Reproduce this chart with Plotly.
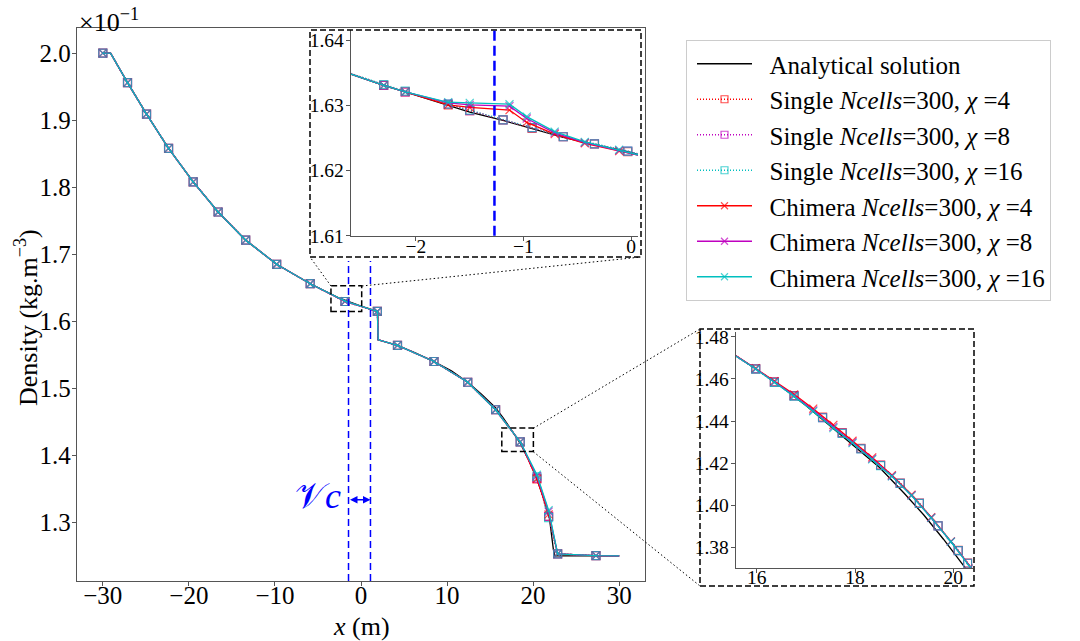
import plotly.graph_objects as go

W, H = 1080, 641
FONT = "Liberation Serif"

# ---------------- data (density in units of 1e-1 kg.m^-3) ----------------
# Analytical solution (main view)
x_ana = [-30.0, -29.1, -27.13, -24.92, -22.36, -19.5, -16.6, -13.4, -9.8, -5.9, -2.6, -1.2,
         0.0, 1.0, 1.95, 1.95, 2.3, 4.24, 6.3, 8.48, 10.5, 12.4, 14.0, 15.6, 16.5, 17.5,
         18.5, 19.4, 20.2, 21.0, 21.9, 22.36, 22.55, 30.0]
rho_ana = [2.0, 2.0, 1.956, 1.909, 1.858, 1.808, 1.763, 1.721, 1.685, 1.656, 1.6348, 1.6278,
           1.6225, 1.6184, 1.6146, 1.5724, 1.571, 1.564, 1.553, 1.540, 1.526, 1.509, 1.491,
           1.4715, 1.4563, 1.4376, 1.4180, 1.3955, 1.3722, 1.345, 1.306, 1.259, 1.25, 1.25]

# Numerical results (main view)
x_num = [-30.0, -29.1, -27.13, -24.92, -22.36, -19.5, -16.6, -13.4, -9.8, -5.9, -1.86, 1.9,
         2.0, 4.24, 8.48, 12.4, 15.64, 18.5, 20.44, 21.8, 22.85, 27.3, 30.0]
num_unmarked = [1, 12, 22]
rho_single4 = [2.0, 2.0, 1.956, 1.909, 1.858, 1.808, 1.763, 1.721, 1.685, 1.656, 1.6295, 1.6146,
               1.5724, 1.564, 1.540, 1.509, 1.468, 1.420, 1.365, 1.309, 1.253, 1.2503, 1.25]
rho_single8 = [2.0, 2.0, 1.956, 1.909, 1.858, 1.808, 1.763, 1.721, 1.685, 1.656, 1.6295, 1.6146,
               1.5724, 1.564, 1.540, 1.509, 1.468, 1.420, 1.366, 1.309, 1.253, 1.2503, 1.25]
rho_single16 = [2.0, 2.0, 1.956, 1.909, 1.858, 1.808, 1.763, 1.721, 1.685, 1.656, 1.6295, 1.6146,
                1.5724, 1.564, 1.540, 1.509, 1.468, 1.420, 1.368, 1.307, 1.253, 1.2503, 1.25]
rho_chim4 = [2.0, 2.0, 1.956, 1.909, 1.858, 1.808, 1.763, 1.721, 1.685, 1.656, 1.6296, 1.6146,
             1.5724, 1.564, 1.540, 1.509, 1.468, 1.420, 1.365, 1.312, 1.253, 1.2503, 1.25]
rho_chim8 = [2.0, 2.0, 1.956, 1.909, 1.858, 1.808, 1.763, 1.721, 1.685, 1.656, 1.6298, 1.6146,
             1.5724, 1.564, 1.540, 1.509, 1.468, 1.420, 1.369, 1.316, 1.253, 1.2503, 1.25]
rho_chim16 = [2.0, 2.0, 1.956, 1.909, 1.858, 1.808, 1.763, 1.721, 1.685, 1.656, 1.6300, 1.6146,
              1.5724, 1.564, 1.540, 1.509, 1.468, 1.420, 1.371, 1.318, 1.253, 1.2503, 1.25]

# Inset 1 (around the left boundary of the coupling zone)
x_in1_ana = [-2.9, -2.607, -2.3, -2.1, -1.7, -1.5, -1.19, -0.92, -0.63, -0.34, -0.03, 0.3]
rho_in1_ana = [1.6365, 1.6348, 1.6331, 1.6321, 1.6301, 1.6290, 1.6277, 1.6265, 1.6251, 1.6240,
               1.6229, 1.6215]
x_in1_single = [-2.9, -2.3, -2.1, -1.7, -1.5, -1.19, -0.92, -0.63, -0.34, -0.03, 0.3]
rho_in1_single4 = [1.6365, 1.6331, 1.6321, 1.6301, 1.6292, 1.6278, 1.6265, 1.6252, 1.6241, 1.6229, 1.6215]
rho_in1_single8 = [1.6365, 1.6331, 1.6321, 1.6302, 1.6292, 1.6278, 1.6266, 1.6252, 1.6241, 1.6230, 1.6215]
rho_in1_single16 = [1.6365, 1.6332, 1.6322, 1.6302, 1.6293, 1.6278, 1.6266, 1.6252, 1.6241, 1.6230, 1.6215]
x_in1_chim = [-2.9, -2.3, -2.1, -1.7, -1.5, -1.13, -0.97, -0.71, -0.43, -0.11, 0.3]
rho_in1_chim4 = [1.6365, 1.6331, 1.6321, 1.6301, 1.6297, 1.6293, 1.6274, 1.6256, 1.6242, 1.6230, 1.6215]
rho_in1_chim8 = [1.6365, 1.6331, 1.6321, 1.6304, 1.6301, 1.6299, 1.6280, 1.6258, 1.6243, 1.6231, 1.6215]
rho_in1_chim16 = [1.6365, 1.6331, 1.6321, 1.6305, 1.6304, 1.6302, 1.6283, 1.6260, 1.6244, 1.6232, 1.6215]
in_unmarked = [0, 10]

# Inset 2 (rarefaction tail)
x_in2_ana = [15.3, 15.573, 16.0, 16.5, 17.0, 17.5, 18.0, 18.5, 19.0, 19.4, 19.8, 20.2, 20.5]
rho_in2_ana = [1.4748, 1.471, 1.4646, 1.4563, 1.4474, 1.4376, 1.4278, 1.4180, 1.4058, 1.3955,
               1.3840, 1.3722, 1.3625]
x_in2_single = [15.2, 15.98, 16.36, 16.76, 17.34, 17.74, 18.12, 18.52, 18.92, 19.31, 19.69, 20.10, 20.29, 20.6]
rho_in2_single4 = [1.4766, 1.4648, 1.4586, 1.4521, 1.4419, 1.4345, 1.4271, 1.4191, 1.4106, 1.4011,
                   1.3904, 1.3787, 1.3727, 1.3629]
rho_in2_single8 = [1.4766, 1.4648, 1.4585, 1.4520, 1.4417, 1.4343, 1.4269, 1.4190, 1.4105, 1.4010,
                   1.3903, 1.3786, 1.3726, 1.3628]
rho_in2_single16 = [1.4765, 1.4647, 1.4584, 1.4519, 1.4416, 1.4342, 1.4268, 1.4189, 1.4105, 1.4010,
                    1.3903, 1.3786, 1.3726, 1.3628]
x_in2_chim = [15.2, 15.98, 16.36, 16.76, 17.15, 17.56, 17.95, 18.35, 18.75, 19.15, 19.55, 19.95, 20.35, 20.6]
rho_in2_chim4 = [1.4768, 1.4651, 1.4590, 1.4527, 1.4459, 1.4382, 1.4307, 1.4228, 1.4144, 1.4051,
                 1.3944, 1.3830, 1.3709, 1.3629]
rho_in2_chim8 = [1.4766, 1.4648, 1.4586, 1.4521, 1.4451, 1.4373, 1.4300, 1.4222, 1.4140, 1.4048,
                 1.3942, 1.3829, 1.3708, 1.3628]
rho_in2_chim16 = [1.4765, 1.4647, 1.4584, 1.4518, 1.4447, 1.4367, 1.4296, 1.4219, 1.4138, 1.4047,
                  1.3941, 1.3828, 1.3707, 1.3628]
in2_unmarked = [0, 13]

# coupling zone V_c bounds (main view) and its left bound seen in inset 1
vc_bounds = [-1.45, 1.10]
vc_left_inset = [-1.27]
vc_arrow_rho = 1.3338
# zoom rectangles drawn on the main view
zoom1_rect = [-3.49, 0.08, 1.6146, 1.653]
zoom2_rect = [16.36, 20.03, 1.4058, 1.4407]

x_ticks_main = [-30, -20, -10, 0, 10, 20, 30]
y_ticks_main = [1.3, 1.4, 1.5, 1.6, 1.7, 1.8, 1.9, 2.0]
x_ticks_in1 = [-2, -1, 0]
y_ticks_in1 = [1.61, 1.62, 1.63, 1.64]
x_ticks_in2 = [16, 18, 20]
y_ticks_in2 = [1.38, 1.40, 1.42, 1.44, 1.46, 1.48]

PAD = "\u00a0\u00a0"
series_names = [
    "Single <i>Ncells</i>=300, <i>χ</i> =4",
    "Single <i>Ncells</i>=300, <i>χ</i> =8",
    "Single <i>Ncells</i>=300, <i>χ</i> =16",
    "Chimera <i>Ncells</i>=300, <i>χ</i> =4",
    "Chimera <i>Ncells</i>=300, <i>χ</i> =8",
    "Chimera <i>Ncells</i>=300, <i>χ</i> =16",
]
ana_name = "Analytical solution"

# ---------------- styles ----------------
RED, MAG, CYA = "#ff0000", "#bf00bf", "#00bfbf"
colors = [RED, MAG, CYA, RED, MAG, CYA]
dashes = ["1px,2px"] * 3 + ["solid"] * 3
symbols = ["square-open"] * 3 + ["x-thin"] * 3
LW = 1.3


def px_x(p):
    return p / W


def px_y(p):
    return 1 - p / H


def sizes(n, unmarked, s):
    return [0 if i in unmarked else s for i in range(n)]


fig = go.Figure()

# main view
fig.add_trace(go.Scatter(x=x_ana, y=rho_ana, mode="lines", name=PAD + ana_name,
                         line=dict(color="black", width=LW), xaxis="x", yaxis="y"))
main_rhos = [rho_single4, rho_single8, rho_single16, rho_chim4, rho_chim8, rho_chim16]
for i in range(6):
    fig.add_trace(go.Scatter(
        x=x_num, y=main_rhos[i], mode="lines+markers", name=PAD + series_names[i],
        line=dict(color=colors[i], width=LW, dash=dashes[i]),
        marker=dict(symbol=symbols[i], size=sizes(len(x_num), num_unmarked, 8),
                    color=colors[i], line=dict(color=colors[i], width=1.2)),
        xaxis="x", yaxis="y"))

# inset 1
fig.add_trace(go.Scatter(x=x_in1_ana, y=rho_in1_ana, mode="lines", showlegend=False,
                         line=dict(color="black", width=LW), xaxis="x2", yaxis="y2"))
in1 = [(x_in1_single, rho_in1_single4), (x_in1_single, rho_in1_single8), (x_in1_single, rho_in1_single16),
       (x_in1_chim, rho_in1_chim4), (x_in1_chim, rho_in1_chim8), (x_in1_chim, rho_in1_chim16)]
for i, (xx, yy) in enumerate(in1):
    fig.add_trace(go.Scatter(
        x=xx, y=yy, mode="lines+markers", showlegend=False,
        line=dict(color=colors[i], width=LW, dash=dashes[i]),
        marker=dict(symbol=symbols[i], size=sizes(len(xx), in_unmarked, 8),
                    color=colors[i], line=dict(color=colors[i], width=1.2)),
        xaxis="x2", yaxis="y2"))

# inset 2
fig.add_trace(go.Scatter(x=x_in2_ana, y=rho_in2_ana, mode="lines", showlegend=False,
                         line=dict(color="black", width=LW), xaxis="x3", yaxis="y3"))
in2 = [(x_in2_single, rho_in2_single4), (x_in2_single, rho_in2_single8), (x_in2_single, rho_in2_single16),
       (x_in2_chim, rho_in2_chim4), (x_in2_chim, rho_in2_chim8), (x_in2_chim, rho_in2_chim16)]
for i, (xx, yy) in enumerate(in2):
    fig.add_trace(go.Scatter(
        x=xx, y=yy, mode="lines+markers", showlegend=False,
        line=dict(color=colors[i], width=LW, dash=dashes[i]),
        marker=dict(symbol=symbols[i], size=sizes(len(xx), in2_unmarked, 8),
                    color=colors[i], line=dict(color=colors[i], width=1.2)),
        xaxis="x3", yaxis="y3"))

AXC = "#555555"
tickfont_main = dict(family=FONT, size=25, color="black")
tickfont_in = dict(family=FONT, size=19.5, color="black")

common = dict(showgrid=False, zeroline=False, ticks="outside", ticklen=4, tickcolor=AXC,
              linecolor=AXC, showline=True)

fig.update_layout(
    width=W, height=H,
    paper_bgcolor="white", plot_bgcolor="white",
    margin=dict(l=0, r=0, t=0, b=0, autoexpand=False),
    xaxis=dict(domain=[px_x(77), px_x(645)], range=[-33, 33], anchor="y", mirror=True,
               tickvals=x_ticks_main, tickfont=tickfont_main, linewidth=1.3,
               ticklabelstandoff=-12, **common),
    yaxis=dict(domain=[px_y(581), px_y(28)], range=[1.2125, 2.0375], anchor="x", mirror=True,
               tickvals=y_ticks_main, tickformat=".1f", tickfont=tickfont_main, linewidth=1.3,
               ticklabelstandoff=-4, **common),
    xaxis2=dict(domain=[px_x(350.7), px_x(638)], range=[-2.607, 0.065], anchor="y2",
                tickvals=x_ticks_in1, tickfont=tickfont_in, linewidth=1,
                ticklabelstandoff=-11, **common),
    yaxis2=dict(domain=[px_y(235.7), px_y(30)], range=[1.61, 1.6416], anchor="x2",
                tickvals=y_ticks_in1, tickformat=".2f", tickfont=tickfont_in, linewidth=1,
                ticklabelstandoff=-2, **common),
    xaxis3=dict(domain=[px_x(735.7), px_x(972.5)], range=[15.573, 20.39], anchor="y3",
                tickvals=x_ticks_in2, tickfont=tickfont_in, linewidth=1,
                ticklabelstandoff=-12, **common),
    yaxis3=dict(domain=[px_y(567.7), px_y(331.7)], range=[1.3705, 1.4824], anchor="x3",
                tickvals=y_ticks_in2, tickformat=".2f", tickfont=tickfont_in, linewidth=1,
                ticklabelstandoff=-2, **common),
    legend=dict(x=px_x(686), y=px_y(40), xanchor="left", yanchor="top",
                bgcolor="white", bordercolor="#cccccc", borderwidth=1,
                font=dict(family=FONT, size=25, color="black"), itemwidth=55,
                indentation=5, tracegroupgap=0),
    showlegend=True,
)

shapes = []
# inset outer dashed boxes
for (x0, y0, x1, y1) in [(310, 30, 641, 257), (700, 329, 974, 586)]:
    shapes.append(dict(type="rect", xref="paper", yref="paper", x0=px_x(x0), x1=px_x(x1),
                       y0=px_y(y1), y1=px_y(y0), line=dict(color="black", width=1.5, dash="6px,3px"),
                       fillcolor="rgba(0,0,0,0)", layer="above"))
# zoom rectangles on the main view
for r in [zoom1_rect, zoom2_rect]:
    shapes.append(dict(type="rect", xref="x", yref="y", x0=r[0], x1=r[1], y0=r[2], y1=r[3],
                       line=dict(color="black", width=1.5, dash="6px,3px"), layer="above"))
# connectors (dotted)
for (a, b, c, d) in [(331, 286, 310, 257), (362, 286, 641, 257), (533.3, 428.3, 700, 329),
                     (533.3, 451.7, 700, 586)]:
    shapes.append(dict(type="line", xref="paper", yref="paper", x0=px_x(a), y0=px_y(b),
                       x1=px_x(c), y1=px_y(d), line=dict(color="black", width=1, dash="1.5px,2.5px")))
# V_c bounds
for v in vc_bounds:
    shapes.append(dict(type="line", xref="x", yref="paper", x0=v, x1=v, y0=px_y(581), y1=px_y(261),
                       line=dict(color="#0000ff", width=1.5, dash="7px,4px"), layer="above"))
for v in vc_left_inset:
    shapes.append(dict(type="line", xref="x2", yref="y2 domain", x0=v, x1=v, y0=0, y1=1,
                       line=dict(color="#0000ff", width=2.5, dash="10px,5px"), layer="above"))
fig.update_layout(shapes=shapes)

annotations = [
    dict(x=vc_bounds[1], y=vc_arrow_rho, ax=vc_bounds[0], ay=vc_arrow_rho, xref="x", yref="y",
         axref="x", ayref="y", text="", showarrow=True, arrowhead=2, arrowside="end+start",
         arrowsize=1, arrowwidth=1.5, arrowcolor="#0000ff", standoff=0, startstandoff=0),
    dict(x=px_x(343), y=px_y(496), xref="paper", yref="paper", xanchor="right", yanchor="middle",
         text="𝒱<i>c</i>", showarrow=False,
         font=dict(family=FONT, size=36, color="#0000ff")),
    dict(x=px_x(77), y=px_y(2), xref="paper", yref="paper", xanchor="left", yanchor="top",
         text="×10<sup>−1</sup>", showarrow=False, font=dict(family=FONT, size=26, color="black")),
    dict(x=px_x(26), y=px_y(318), xref="paper", yref="paper", xanchor="center", yanchor="middle",
         text="Density (kg.m<sup>−3</sup>)", textangle=-90, showarrow=False,
         font=dict(family=FONT, size=26, color="black")),
    dict(x=px_x(361), y=px_y(626), xref="paper", yref="paper", xanchor="center", yanchor="middle",
         text="<i>x</i> (m)", showarrow=False, font=dict(family=FONT, size=26, color="black")),
]
fig.update_layout(annotations=annotations)

fig.write_html("out.html", config={"displayModeBar": False},
               post_script="document.body.style.margin='0px';document.body.style.overflow='hidden';")
